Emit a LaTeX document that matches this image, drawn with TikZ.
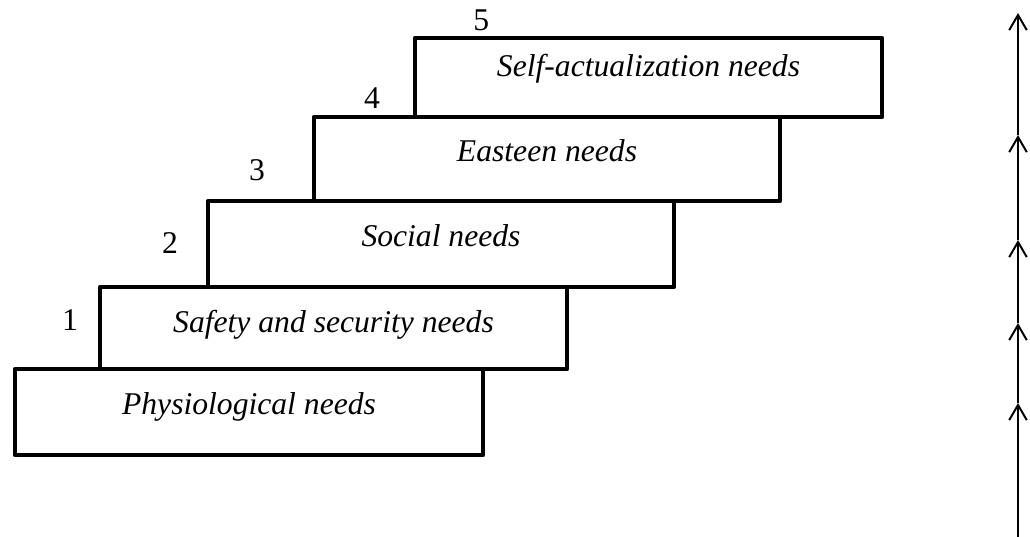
\documentclass[tikz,border=0pt]{standalone}
\usepackage{fontspec}
\setmainfont{Liberation Serif}
\usetikzlibrary{arrows.meta}

\begin{document}
\begin{tikzpicture}
\tikzset{needbox/.style={line width=3.2pt,line join=round},
  needtext/.style={font=\fontsize{22.5}{27}\selectfont\itshape},
  levelnum/.style={font=\fontsize{22.5}{27}\selectfont},
  upline/.style={line width=1.4pt,-{Straight Barb[length=0.38cm,width=0.44cm,line width=1.4pt]}}}
\useasboundingbox (0,0) rectangle (25.75,13.425);
% steps
\draw[needbox] (0.375,2.05) rectangle (12.075,4.2) node[pos=0.5,yshift=0.12cm,needtext] (phys) {Physiological needs};
\draw[needbox] (2.5,4.2) rectangle (14.175,6.25) node[pos=0.5,yshift=0.08cm,needtext] (safe) {Safety and security needs};
\draw[needbox] (5.2,6.25) rectangle (16.85,8.4) node[pos=0.5,yshift=0.22cm,needtext] (soc) {Social needs};
\draw[needbox] (7.85,8.4) rectangle (19.5,10.5) node[pos=0.5,yshift=0.22cm,needtext] (est) {Easteen needs};
\draw[needbox] (10.375,10.5) rectangle (22.05,12.475) node[pos=0.5,yshift=0.22cm,needtext] (self) {Self-actualization needs};
% numbers
\node[levelnum] (n1) at (1.75,5.425) {1};
\node[levelnum] (n2) at (4.25,7.35) {2};
\node[levelnum] (n3) at (6.425,9.175) {3};
\node[levelnum] (n4) at (9.3,10.975) {4};
\node[levelnum] (n5) at (12.03,12.925) {5};
% arrow on the right
\coordinate (a0) at (25.45,0);
\coordinate (a1) at (25.45,3.35);
\coordinate (a2) at (25.45,5.35);
\coordinate (a3) at (25.45,7.425);
\coordinate (a4) at (25.45,10.05);
\coordinate (a5) at (25.45,13.1);
\draw[upline] (a0) -- (a1);
\draw[upline] (a1) -- (a2);
\draw[upline] (a2) -- (a3);
\draw[upline] (a3) -- (a4);
\draw[upline] (a4) -- (a5);
\end{tikzpicture}
\end{document}
